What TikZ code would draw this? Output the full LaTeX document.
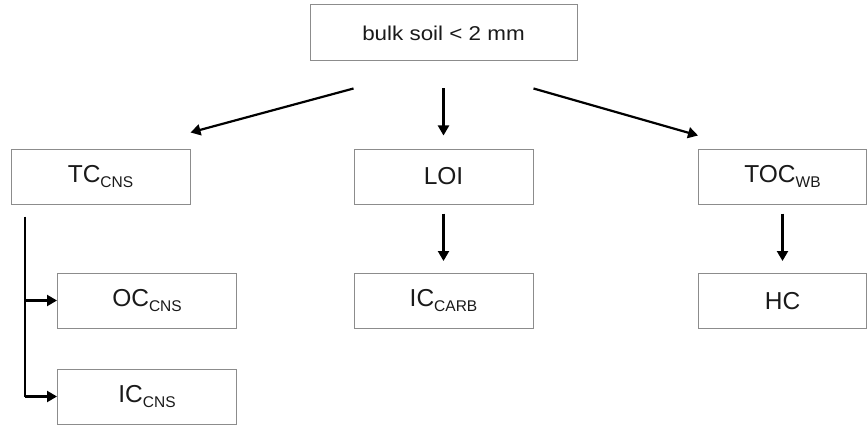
\documentclass[tikz,border=0pt]{standalone}
\usepackage{fontspec}
\setmainfont{Liberation Sans}
\usetikzlibrary{arrows.meta}
\definecolor{boxgray}{HTML}{8C8C8C}
\definecolor{txt}{HTML}{1A1A1A}
\newcommand{\sbs}[1]{\raisebox{-5pt}{\fontsize{15.5}{15.5}\selectfont #1}}
\begin{document}
\begin{tikzpicture}[x=1pt,y=-1pt,
  box/.style={draw=boxgray,line width=1pt,minimum height=55pt,inner sep=0pt,
    text=txt,font=\fontsize{24.5}{28}\selectfont},
  arr/.style={line width=2.2pt,-{Triangle[length=10pt,width=11pt]}},
  lin/.style={line width=2.2pt}]
\useasboundingbox (0,0) rectangle (867,425);
\node[box,minimum width=267pt,minimum height=56pt,font=\fontsize{20}{24}\selectfont] (bulk) at (443.5,33) {\scalebox{1.12}[1]{bulk soil < 2 mm}};
\node[box,minimum width=179pt] (tc) at (100.5,176.5) {TC\sbs{CNS}};
\node[box,minimum width=179pt] (loi) at (443.5,176.5) {LOI};
\node[box,minimum width=168pt] (toc) at (782.5,176.5) {TOC\sbs{WB}};
\node[box,minimum width=179pt] (oc) at (147,300.5) {OC\sbs{CNS}};
\node[box,minimum width=179pt] (iccns) at (147,396.5) {IC\sbs{CNS}};
\node[box,minimum width=179pt] (iccarb) at (443.5,301) {IC\sbs{CARB}};
\node[box,minimum width=168pt] (hc) at (782.5,301) {HC};
% top arrows
\draw[arr] ([shift={(-90pt,-27pt)}]bulk.south) -- ([shift={(0pt,16pt)}]tc.north east);
\draw[arr] ([yshift=-27pt]bulk.south) -- ([yshift=13pt]loi.north);
\draw[arr] ([shift={(90pt,-27pt)}]bulk.south) -- ([shift={(0pt,13pt)}]toc.north west);
% lower arrows
\draw[arr] ([yshift=-9pt]loi.south) -- ([yshift=12pt]iccarb.north);
\draw[arr] ([yshift=-9pt]toc.south) -- ([yshift=12pt]hc.north);
% bracket from TC
\coordinate (br) at ([xshift=-75.5pt,yshift=-12pt]tc.south);
\draw[lin] (br) -- (br |- iccns.west);
\draw[arr] (br |- oc.west) -- (oc.west);
\draw[arr] (br |- iccns.west) -- (iccns.west);
\end{tikzpicture}
\end{document}
